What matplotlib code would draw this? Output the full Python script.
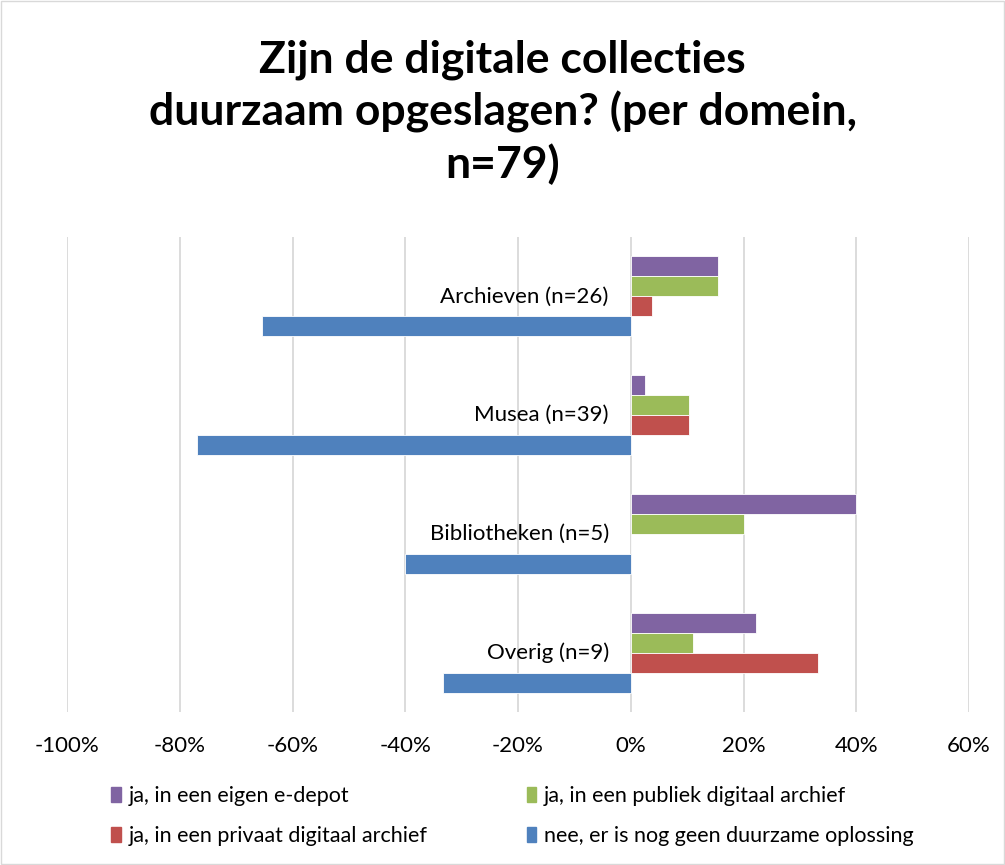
import numpy as np
from matplotlib import pyplot as plt
from matplotlib.patches import Rectangle, Patch
from matplotlib.ticker import FuncFormatter

plt.rcParams['font.family'] = ['Lato', 'DejaVu Sans']

categories = ['Archieven (n=26)', 'Musea (n=39)', 'Bibliotheken (n=5)', 'Overig (n=9)']
series = ['ja, in een eigen e-depot', 'ja, in een publiek digitaal archief',
          'ja, in een privaat digitaal archief', 'nee, er is nog geen duurzame oplossing']
eigen = [15.4, 2.6, 40.0, 22.2]
publiek = [15.4, 10.3, 20.0, 11.1]
privaat = [3.8, 10.3, 0.0, 33.3]
nee = [-65.4, -76.9, -40.0, -33.3]
colors = ['#8064A2', '#9BBB59', '#C0504D', '#4F81BD']
xticks = [-100, -80, -60, -40, -20, 0, 20, 40, 60]

fig = plt.figure(figsize=(10.05, 8.65), dpi=100)
fig.patches.append(Rectangle((0.001, 0.001), 0.998, 0.998, transform=fig.transFigure,
                             fill=False, edgecolor='#D9D9D9', linewidth=1))
ax = fig.add_axes([67/1005, 1 - 712/865, (969-67)/1005, (712-237)/865])

y = np.arange(len(categories))
h = 0.168
for k, vals in enumerate([eigen, publiek, privaat, nee]):
    ax.barh(y + (k - 1.5) * h, vals, height=h, color=colors[k],
            edgecolor='white', linewidth=0.6, label=series[k], zorder=3)

ax.set_xlim(-100, 60)
ax.set_ylim(len(categories) - 0.5, -0.5)
ax.set_xticks(xticks)
ax.xaxis.set_major_formatter(FuncFormatter(lambda v, p: '%d%%' % v))
ax.grid(axis='x', color='#D9D9D9', linewidth=1.3, zorder=0)
ax.tick_params(axis='x', length=0, labelsize=16, pad=17)
ax.set_yticks([])
for s in ax.spines.values():
    s.set_visible(False)

for i, c in enumerate(categories):
    ax.annotate(c, xy=(0, i), xytext=(-22, 0), textcoords='offset pixels',
                ha='right', va='center', fontsize=16)

fig.text(0.5, 1 - 112/865, 'Zijn de digitale collecties\nduurzaam opgeslagen? (per domein,\nn=79)',
         ha='center', va='center', fontsize=32, fontweight='bold', linespacing=1.3)

handles = [Patch(color=colors[i]) for i in [0, 2, 1, 3]]
labels = [series[i] for i in [0, 2, 1, 3]]
fig.legend(handles, labels, ncol=2, loc='center left', bbox_to_anchor=(92/1005, 1 - 816/865),
           frameon=False, fontsize=15.5, handlelength=0.45, handleheight=0.7, handletextpad=0.35,
           columnspacing=4.6, labelspacing=0.95)

plt.savefig('out.png', dpi=100)
